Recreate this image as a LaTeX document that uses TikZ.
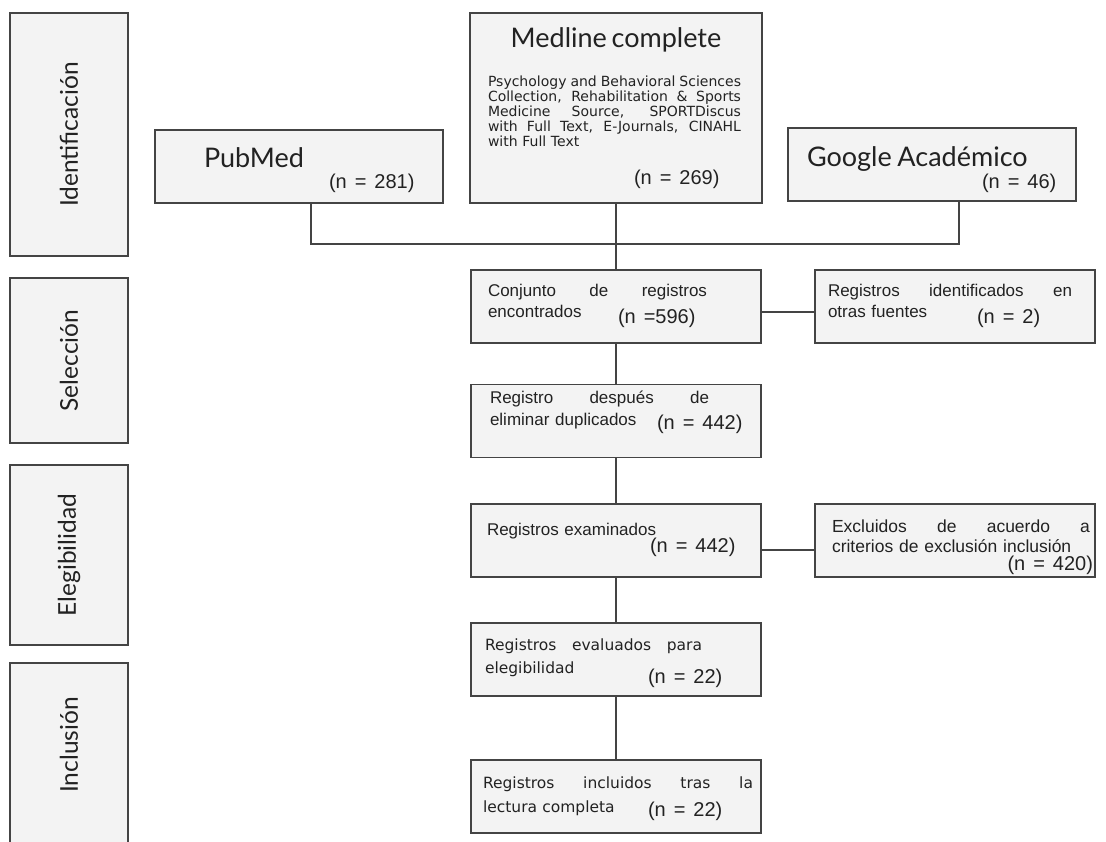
\documentclass[tikz,border=0pt]{standalone}
\usepackage{fontspec}
\setmainfont{Lato}
\newfontfamily\vfont{DejaVu Sans}
\newfontfamily\nfont{Liberation Sans}
\usetikzlibrary{calc}

\definecolor{fig-line}{RGB}{ 68, 68, 68}
\definecolor{fig-fill}{RGB}{243,243,243}
\definecolor{fig-text}{RGB}{ 34, 34, 34}

\setlength{\lineskiplimit}{-100pt}
\newcommand{\nv}[1]{{\nfont\fontsize{20}{20}\selectfont(n\hspace{.4em}=\hspace{.4em}#1)}}
\newcommand{\spread}[2]{\makebox[#1][s]{\spaceskip=0pt\relax #2}}

\begin{document}
\begin{tikzpicture}[x=1pt, y=-1pt,
    box/.style={draw=fig-line, fill=fig-fill, line width=1.3pt, inner sep=0pt,
      text=fig-text, align=left, minimum width=290pt, minimum height=73pt,
      font=\nfont\fontsize{17}{21}\selectfont},
    phase/.style={box, rotate=90, align=center, minimum height=118pt,
      font=\rmfamily\fontsize{24.5}{28}\selectfont},
    link/.style={draw=fig-line, line width=1.2pt}]
    \useasboundingbox (0,0) rectangle (1106,842);

    \node[phase, minimum width=243pt] (ident) at (69,134.5) {Identificación};
    \node[phase, minimum width=165pt] (selec) at (69,360.5) {Selección};
    \node[phase, minimum width=180pt] (eleg) at (69,555) {Elegibilidad};
    \node[phase, minimum width=207pt] (incl) at (69,766.5) {\hspace*{43pt}Inclusión};

    \node[box, minimum width=288pt, text width=288pt, text height=3pt, text depth=0pt] (pubmed) at (299,166.5)
      {\hspace*{49pt}{\rmfamily\fontsize{27}{27}\selectfont PubMed}\\
       \hspace*{174pt}\nv{281}};

    \node[box, minimum width=292pt, minimum height=190pt, text width=256pt,
      text height=0pt, text depth=120pt, font=\vfont\fontsize{14}{15}\selectfont] (medline) at (616,108)
      {\makebox[256pt][c]{\rmfamily\fontsize{27}{27}\selectfont Medline complete}\\[22pt]
       \spread{253pt}{Psychology and Behavioral Sciences}\\
       \spread{253pt}{Collection, Rehabilitation \& Sports}\\
       \spread{253pt}{Medicine Source, SPORTDiscus}\\
       \spread{253pt}{with Full Text, E-Journals, CINAHL}\\
       with Full Text\\[23pt]
       \hspace*{146pt}\nv{269}};

    \node[box, minimum width=288pt, text width=288pt, text height=5pt, text depth=0pt] (google) at (932,164.5)
      {\hspace*{19pt}{\rmfamily\fontsize{27}{27}\selectfont Google Académico}\\[1pt]
       \hspace*{194pt}\nv{46}};

    \node[box, text width=256pt, text height=0pt, text depth=19pt] (conj) at (616,306.5)
      {\spread{219pt}{Conjunto de registros}\\
       \makebox[130pt][l]{encontrados}\raisebox{-6pt}{{\nfont\fontsize{20}{20}\selectfont(n\hspace{.4em}=596)}}};

    \node[box, minimum width=280pt, text width=254pt, text height=0pt, text depth=19pt] (otras) at (955,306.5)
      {\spread{244pt}{Registros identificados en}\\
       \makebox[149pt][l]{otras fuentes}\raisebox{-6pt}{\nv{2}}};

    \node[box, text width=252pt, text height=0pt, text depth=36pt] (dupl) at (616,421)
      {\spread{219pt}{Registro después de}\\[1pt]
       \makebox[167pt][l]{eliminar duplicados}\raisebox{-4pt}{\nv{442}}};

    \node[box, text width=258pt, text height=0pt, text depth=11pt] (exam) at (616,540.5)
      {Registros examinados\\[-4pt]
       \hspace*{163pt}\nv{442}};

    \node[box, minimum width=280pt, text width=246pt, text height=0pt, text depth=17pt,
      font=\nfont\fontsize{17.5}{21}\selectfont] (excl) at (955,540.5)
      {\spread{258pt}{Excluidos de acuerdo a}\\[-1pt]
       criterios de exclusión inclusión\\[-3pt]
       \makebox[261pt][r]{\nv{420}}};

    \node[box, text width=262pt, text height=0pt, text depth=19pt,
      font=\vfont\fontsize{15.5}{19}\selectfont] (eval) at (616,659.5)
      {\spread{217pt}{Registros evaluados para}\\[4pt]
       \makebox[163pt][l]{elegibilidad}\raisebox{-10pt}{\nv{22}}};

    \node[box, text width=266pt, text height=0pt, text depth=17pt,
      font=\vfont\fontsize{15.5}{19}\selectfont] (inclu) at (616,796.5)
      {\spread{270pt}{Registros incluidos tras la}\\[5pt]
       \makebox[165pt][l]{lectura completa}\raisebox{-4pt}{\nv{22}}};

    \coordinate (bus) at (616,244);
    \draw[link] ([xshift=12pt]pubmed.south) |- (bus) -| ([xshift=27pt]google.south);
    \draw[link] (medline) -- (conj);
    \draw[link] ($(conj.east)+(0,5.5)$) -- ($(otras.west)+(0,5.5)$);
    \draw[link] (conj) -- (dupl);
    \draw[link] (dupl) -- (exam);
    \draw[link] ($(exam.east)+(0,9.5)$) -- ($(excl.west)+(0,9.5)$);
    \draw[link] (exam) -- (eval);
    \draw[link] (eval) -- (inclu);
  \end{tikzpicture}
\end{document}
